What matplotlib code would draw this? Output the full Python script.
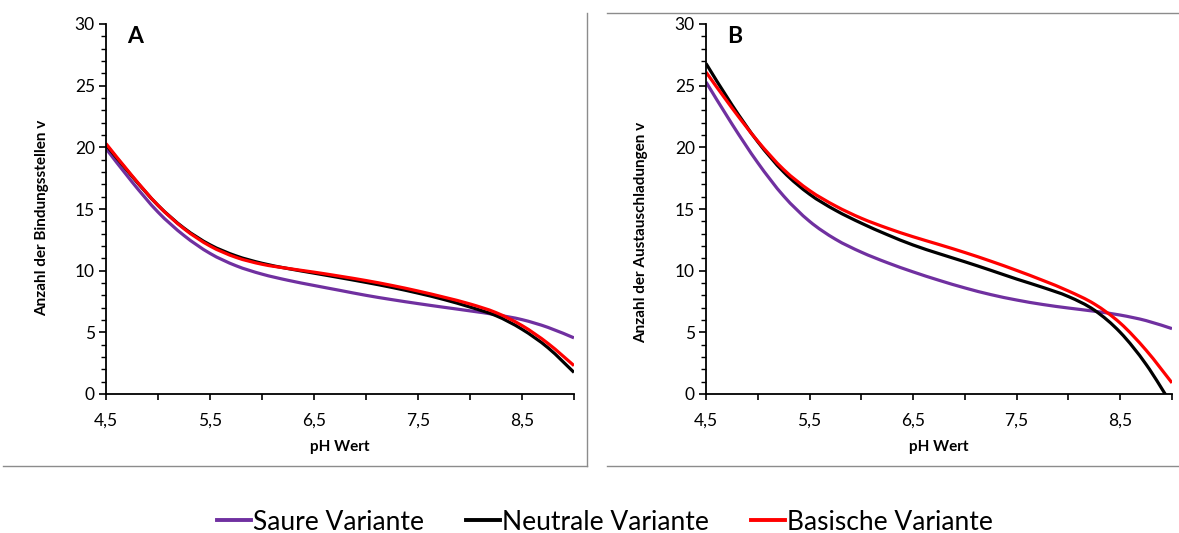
import numpy as np
import matplotlib
matplotlib.use("Agg")
import matplotlib.pyplot as plt
from matplotlib.path import Path
from matplotlib.patches import PathPatch
from matplotlib.lines import Line2D

plt.rcParams['font.family'] = ['Lato', 'DejaVu Sans']

# pH values at which the curves were sampled
ph = [4.5, 4.75, 5.0, 5.25, 5.5, 5.75, 6.0, 6.25, 6.5, 6.75, 7.0,
      7.25, 7.5, 7.75, 8.0, 8.25, 8.5, 8.75, 9.0]

# Panel A: Anzahl der Bindungsstellen
a_saure = [19.9, 17.2, 14.75, 12.85, 11.4, 10.4, 9.72, 9.22, 8.8, 8.4, 8.0,
           7.65, 7.33, 7.03, 6.74, 6.43, 6.03, 5.4, 4.55]
a_neutral = [20.2, 17.65, 15.3, 13.45, 12.1, 11.2, 10.6, 10.17, 9.8, 9.43, 9.05,
             8.64, 8.18, 7.66, 7.05, 6.35, 5.25, 3.75, 1.75]
a_basisch = [20.3, 17.7, 15.3, 13.4, 12.0, 11.08, 10.52, 10.18, 9.88, 9.55, 9.2,
             8.8, 8.35, 7.85, 7.3, 6.6, 5.55, 4.1, 2.3]

# Panel B: Anzahl der Austauschladungen
b_saure = [25.3, 21.9, 18.75, 16.05, 14.0, 12.55, 11.5, 10.65, 9.9, 9.22, 8.6,
           8.06, 7.62, 7.26, 6.97, 6.71, 6.4, 5.95, 5.3]
b_neutral = [26.8, 23.45, 20.45, 18.0, 16.2, 14.9, 13.85, 12.92, 12.08, 11.38, 10.72,
             10.03, 9.32, 8.65, 7.9, 6.8, 5.0, 2.4, -0.9]
b_basisch = [26.1, 23.2, 20.5, 18.2, 16.5, 15.25, 14.25, 13.45, 12.75, 12.12, 11.47,
             10.77, 10.02, 9.22, 8.35, 7.3, 5.75, 3.55, 0.9]

series_names = ["Saure Variante", "Neutrale Variante", "Basische Variante"]
series_colors = ["#7030A0", "#000000", "#FF0000"]

x_labels = ["4,5", "5,5", "6,5", "7,5", "8,5"]
x_major = [4.5, 5.5, 6.5, 7.5, 8.5]
x_minor = [5.0, 6.0, 7.0, 8.0, 9.0]

W, H = 1179, 533
fig = plt.figure(figsize=(W / 100, H / 100), dpi=100)


def smooth_path(x, y):
    """Catmull-Rom style smoothed path through the sample points (cubic Bezier)."""
    x = np.asarray(x, float)
    y = np.asarray(y, float)
    n = len(x)
    verts = [(x[0], y[0])]
    codes = [Path.MOVETO]
    for i in range(n - 1):
        x0, y0 = (x[i - 1], y[i - 1]) if i > 0 else (x[i], y[i])
        x3, y3 = (x[i + 2], y[i + 2]) if i + 2 < n else (x[i + 1], y[i + 1])
        c1 = (x[i] + (x[i + 1] - x0) / 6.0, y[i] + (y[i + 1] - y0) / 6.0)
        c2 = (x[i + 1] - (x3 - x[i]) / 6.0, y[i + 1] - (y3 - y[i]) / 6.0)
        verts += [c1, c2, (x[i + 1], y[i + 1])]
        codes += [Path.CURVE4] * 3
    return Path(verts, codes)


def panel(rect, data, ylabel, letter, ylabel_center):
    ax = fig.add_axes(rect)
    for vals, col in zip(data, series_colors):
        patch = PathPatch(smooth_path(ph, vals), facecolor="none", edgecolor=col,
                          lw=2.3, capstyle="butt", joinstyle="round")
        ax.add_patch(patch)
    ax.set_xlim(4.5, 9.0)
    ax.set_ylim(0, 30)
    for s in ("top", "right"):
        ax.spines[s].set_visible(False)
    for s in ("left", "bottom"):
        ax.spines[s].set_linewidth(1.3)
        ax.spines[s].set_color("black")
    ax.set_xticks(x_major)
    ax.set_xticklabels(x_labels)
    ax.set_xticks(x_minor, minor=True)
    ax.set_yticks(range(0, 31, 5))
    ax.set_yticks(range(0, 31, 1), minor=True)
    ax.tick_params(axis="x", which="both", direction="out", length=4.5, width=1.2,
                   labelsize=12.5, pad=9, colors="black")
    ax.tick_params(axis="y", which="major", direction="out", length=5, width=1.2,
                   labelsize=12.5, pad=3)
    ax.tick_params(axis="y", which="minor", direction="out", length=3.5, width=1.0)
    ax.set_xlabel("pH Wert", fontsize=11, fontweight="bold", labelpad=8)
    ax.text(0.045, 0.965, letter, transform=ax.transAxes, fontsize=16.5,
            fontweight="bold", va="center", ha="left")
    x_px, y_px = ylabel_center
    fig.text(x_px / W, 1 - y_px / H, ylabel, rotation=90, fontsize=11,
             fontweight="bold", ha="center", va="center")
    return ax


bottom = (H - 394) / H
height = 370 / H
panel([106 / W, bottom, 468 / W, height], [a_saure, a_neutral, a_basisch],
      "Anzahl der Bindungsstellen v", "A", (42, 218))
panel([706 / W, bottom, 466 / W, height], [b_saure, b_neutral, b_basisch],
      "Anzahl der Austauschladungen v", "B", (641, 232))


def frame_line(x0, y0, x1, y1):
    fig.add_artist(Line2D([x0 / W, x1 / W], [1 - y0 / H, 1 - y1 / H],
                          transform=fig.transFigure, color="#8c8c8c", lw=1.0))


# panel borders
frame_line(3, 466, 587, 466)
frame_line(587, 13, 587, 466)
frame_line(607, 13, 1179, 13)
frame_line(607, 466, 1179, 466)

handles = [Line2D([], [], color=c, lw=2.8) for c in series_colors]
fig.legend(handles, series_names, loc="center", bbox_to_anchor=(605 / W, 1 - 522 / H),
           ncol=3, frameon=False, fontsize=19, handlelength=1.3, handletextpad=0.06,
           columnspacing=1.6, borderpad=0, borderaxespad=0)

fig.savefig("out.png", dpi=100)
